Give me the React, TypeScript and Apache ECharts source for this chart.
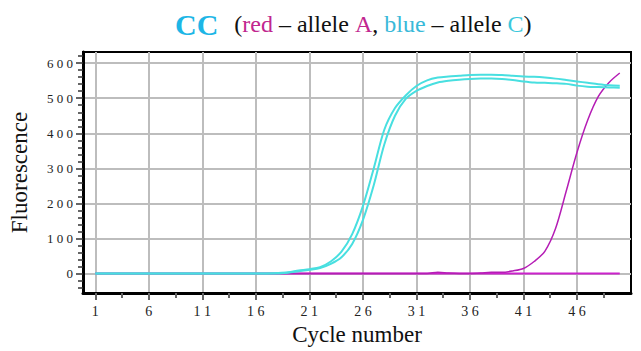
import React, { useEffect, useRef } from "react";
import * as echarts from "echarts";

const cycles = [1, 2, 3, 4, 5, 6, 7, 8, 9, 10, 11, 12, 13, 14, 15, 16, 17, 18, 19, 20, 21, 22, 23, 24, 25, 26, 27, 28, 29, 30, 31, 32, 33, 34, 35, 36, 37, 38, 39, 40, 41, 42, 43, 44, 45, 46, 47, 48, 49, 50];

const cyanA = [0, 0, 0, 0, 0, 0, 0, 0, 0, 0, 0, 0, 0, 0, 0, 0, 0, 1, 3, 8, 12, 18, 34, 62, 112, 192, 298, 410, 472, 508, 535, 551, 559, 562, 564, 566, 567, 567, 566, 564, 562, 561, 559, 556, 552, 548, 544, 540, 537, 536];
const cyanB = [0, 0, 0, 0, 0, 0, 0, 0, 0, 0, 0, 0, 0, 0, 0, 0, 0, 0, 2, 6, 10, 15, 27, 46, 84, 152, 250, 368, 450, 498, 521, 535, 545, 550, 553, 555, 556, 556, 555, 552, 548, 545, 544, 543, 541, 536, 533, 532, 531, 530];
const magentaRise = [0, 0, 0, 0, 0, 0, 0, 0, 0, 0, 0, 0, 0, 0, 0, 0, 0, 0, 0, 0, 0, 0, 0, 0, 0, 0, 0, 0, 0, 0, 0, 0, 3, 1, 0, 0, 1, 3, 3, 7, 14, 34, 63, 128, 235, 345, 437, 505, 545, 572];
const magentaFlat = [0, 0, 0, 0, 0, 0, 0, 0, 0, 0, 0, 0, 0, 0, 0, 0, 0, 0, 0, 0, 0, 0, 0, 0, 0, 0, 0, 0, 0, 0, 0, 0, 0, 0, 0, 0, 0, 0, 0, 0, 0, 0, 0, 0, 0, 0, 0, 0, 0, 0];

const xTickLabels = [1, 6, 11, 16, 21, 26, 31, 36, 41, 46];
const xMinorTicks = [3.5, 8.5, 13.5, 18.5, 23.5, 28.5, 33.5, 38.5, 43.5, 48.5];
const yTickLabels = [0, 100, 200, 300, 400, 500, 600];
const yMinorTicks = [-40, -20, 20, 40, 60, 80, 120, 140, 160, 180, 220, 240, 260, 280, 320, 340, 360, 380, 420, 440, 460, 480, 520, 540, 560, 580, 620];

const serif = "'Liberation Serif', 'Times New Roman', serif";
const spaced = (v: number) => String(v).split("").join(" ");

export default function App() {
  const ref = useRef<HTMLDivElement>(null);
  useEffect(() => {
    if (!ref.current) return;
    const chart = echarts.init(ref.current, undefined, { renderer: "svg" });
    const pairs = (arr: number[]) => cycles.map((c, i) => [c, arr[i]]);
    const lineBase = { type: "line", showSymbol: false, symbol: "none", smooth: 0.3, xAxisIndex: 0, yAxisIndex: 0 };
    chart.setOption({
      animation: false,
      backgroundColor: "#ffffff",
      title: {
        left: 170,
        top: 4,
        text: "{cc|CC}{sp| }{p|(}{r|red}{p| – allele }{r|A}{p|, }{b|blue}{p| – allele }{c|C}{p|)}",
        textStyle: {
          fontWeight: "normal",
          rich: {
            cc: { fontFamily: serif, fontSize: 30, fontWeight: "bold", color: "#1db6e6" },
            sp: { width: 16, fontWeight: "normal" },
            p: { fontFamily: serif, fontSize: 24, fontWeight: "normal", color: "#111111" },
            r: { fontFamily: serif, fontSize: 24, fontWeight: "normal", color: "#c1268f" },
            b: { fontFamily: serif, fontSize: 24, fontWeight: "normal", color: "#39b9d9" },
            c: { fontFamily: serif, fontSize: 24, fontWeight: "normal", color: "#3cc8dc" },
          },
        },
      },
      grid: { left: 82, right: 10, top: 52, bottom: 58, show: true, borderColor: "#000", borderWidth: 2 },
      xAxis: [
        {
          type: "value",
          min: -0.15,
          max: 51.05,
          position: "bottom",
          name: "Cycle number",
          nameLocation: "middle",
          nameGap: 27,
          nameTextStyle: { fontFamily: serif, fontSize: 23, color: "#111" },
          axisLine: { show: true, onZero: false, lineStyle: { color: "#000", width: 3 } },
          axisTick: { show: true, customValues: xTickLabels, length: 7, lineStyle: { color: "#666", width: 2 } },
          axisLabel: { customValues: xTickLabels, formatter: spaced, margin: 11, fontFamily: serif, fontSize: 14, color: "#222" },
          splitLine: { show: true, lineStyle: { color: "#bdbdbd", width: 2 } },
        },
        {
          type: "value",
          min: -0.15,
          max: 51.05,
          position: "bottom",
          axisLine: { show: false, onZero: false },
          axisTick: { show: true, customValues: xMinorTicks, length: 5, lineStyle: { color: "#666", width: 2 } },
          axisLabel: { show: false },
          splitLine: { show: false },
        },
      ],
      yAxis: [
        {
          type: "value",
          min: -56,
          max: 632,
          position: "left",
          name: "Fluorescence",
          nameLocation: "middle",
          nameGap: 52,
          nameTextStyle: { fontFamily: serif, fontSize: 23, color: "#111" },
          axisLine: { show: true, onZero: false, lineStyle: { color: "#000", width: 3 } },
          axisTick: { show: true, customValues: yTickLabels, length: 7, lineStyle: { color: "#333", width: 1.5 } },
          axisLabel: { customValues: yTickLabels, formatter: spaced, margin: 10, fontFamily: serif, fontSize: 13, color: "#222" },
          splitLine: { show: true, lineStyle: { color: "#bdbdbd", width: 2 } },
        },
        {
          type: "value",
          min: -56,
          max: 632,
          position: "left",
          axisLine: { show: false, onZero: false },
          axisTick: { show: true, customValues: yMinorTicks, length: 5, lineStyle: { color: "#333", width: 1.5 } },
          axisLabel: { show: false },
          splitLine: { show: false },
        },
      ],
      series: [
        { ...lineBase, name: "A flat", z: 3, data: pairs(magentaFlat), lineStyle: { color: "#cc22cc", width: 2 } },
        { ...lineBase, name: "A", z: 3, data: pairs(magentaRise), lineStyle: { color: "#b51db5", width: 1.5 } },
        { ...lineBase, name: "C1", z: 4, data: pairs(cyanA), lineStyle: { color: "#48dfe0", width: 2 } },
        { ...lineBase, name: "C2", z: 4, data: pairs(cyanB), lineStyle: { color: "#48dfe0", width: 2 } },
      ],
    });
    return () => chart.dispose();
  }, []);
  return <div ref={ref} style={{ position: "absolute", left: 0, top: 0, width: 641, height: 351 }} />;
}
